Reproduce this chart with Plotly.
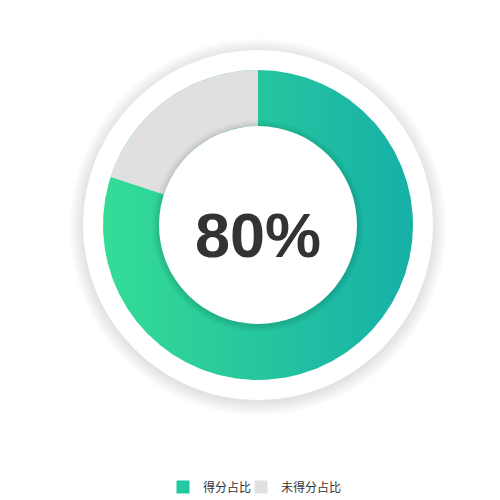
import numpy as np
import plotly.graph_objects as go

# ---- data ----
labels = ["得分占比", "未得分占比"]
values = [80, 20]
center_text = "80%"

# ---- style ----
W = H = 500
OFF = 8                      # page body margin offset
cx, cy = 258 - OFF, 225 - OFF
R_RING, R_HOLE, R_WHITE = 155, 99, 175
GRAD = [[0, "#35dc95"], [1, "#16b0a8"]]
GREY = "#e0e0e0"
LEG_COLORS = ["#24c8a0", GREY]

fig = go.Figure()

# gradient ring background (shown through the transparent score slice)
t = np.linspace(0, 2 * np.pi, 721)
fig.add_trace(go.Scatter(
    x=cx + R_RING * np.cos(t), y=cy + R_RING * np.sin(t),
    mode="lines", fill="toself", line=dict(width=0),
    fillgradient=dict(type="horizontal", colorscale=GRAD),
    hoverinfo="skip", showlegend=False))

# the donut itself
fig.add_trace(go.Pie(
    labels=labels, values=values, hole=R_HOLE / R_RING,
    sort=False, direction="clockwise", rotation=0,
    marker=dict(colors=["rgba(0,0,0,0)", GREY], line=dict(width=0)),
    textinfo="none", hoverinfo="label+percent", showlegend=False,
    domain=dict(x=[(cx - R_RING) / W, (cx + R_RING) / W],
                y=[1 - (cy + R_RING) / H, 1 - (cy - R_RING) / H])))

# legend entries
for name, col in zip(labels, LEG_COLORS):
    fig.add_trace(go.Scatter(
        x=[None], y=[None], mode="markers", name=name,
        marker=dict(symbol="square", size=13, color=col)))
# invisible spacer so the last legend label is not clipped
fig.add_trace(go.Scatter(x=[None], y=[None], mode="markers", name=" ",
                         marker=dict(opacity=0), hoverinfo="skip"))

shapes = []
# outer white disc with soft shadow
for k in range(14, 0, -1):
    r = R_WHITE + k
    shapes.append(dict(type="circle", xref="x", yref="y",
                       x0=cx - r, x1=cx + r, y0=cy - r + 2, y1=cy + r + 2,
                       fillcolor="rgba(0,0,0,0.007)", line=dict(width=0), layer="below"))
shapes.append(dict(type="circle", xref="x", yref="y",
                   x0=cx - R_WHITE, x1=cx + R_WHITE, y0=cy - R_WHITE, y1=cy + R_WHITE,
                   fillcolor="white", line=dict(width=0), layer="below"))
# inner shadow cast by the centre disc
for k in range(7, 0, -1):
    r = R_HOLE + k
    shapes.append(dict(type="circle", xref="x", yref="y",
                       x0=cx - r, x1=cx + r, y0=cy - r + 1, y1=cy + r + 1,
                       fillcolor="rgba(0,0,0,0.014)", line=dict(width=0), layer="above"))
shapes.append(dict(type="circle", xref="x", yref="y",
                   x0=cx - R_HOLE, x1=cx + R_HOLE, y0=cy - R_HOLE, y1=cy + R_HOLE,
                   fillcolor="white", line=dict(width=0), layer="above"))

fig.update_layout(
    width=W, height=H, margin=dict(l=0, r=0, t=0, b=0, pad=0),
    paper_bgcolor="white", plot_bgcolor="rgba(0,0,0,0)",
    xaxis=dict(range=[0, W], visible=False, fixedrange=True),
    yaxis=dict(range=[H, 0], visible=False, fixedrange=True),
    shapes=shapes,
    annotations=[dict(text="<b>" + center_text + "</b>", x=cx, y=cy + 10,
                      xref="x", yref="y", showarrow=False,
                      font=dict(family="Liberation Sans, Arial, sans-serif", size=63, color="#333333"))],
    legend=dict(orientation="h", x=(163 - OFF) / W, xanchor="left", y=1 - (487 - OFF) / H,
                yanchor="middle", entrywidth=33, entrywidthmode="pixels",
                font=dict(family="Noto Sans CJK SC, sans-serif", size=12, color="#333333"),
                bgcolor="rgba(0,0,0,0)", itemclick=False, itemdoubleclick=False),
)

fig.write_html("out.html")
